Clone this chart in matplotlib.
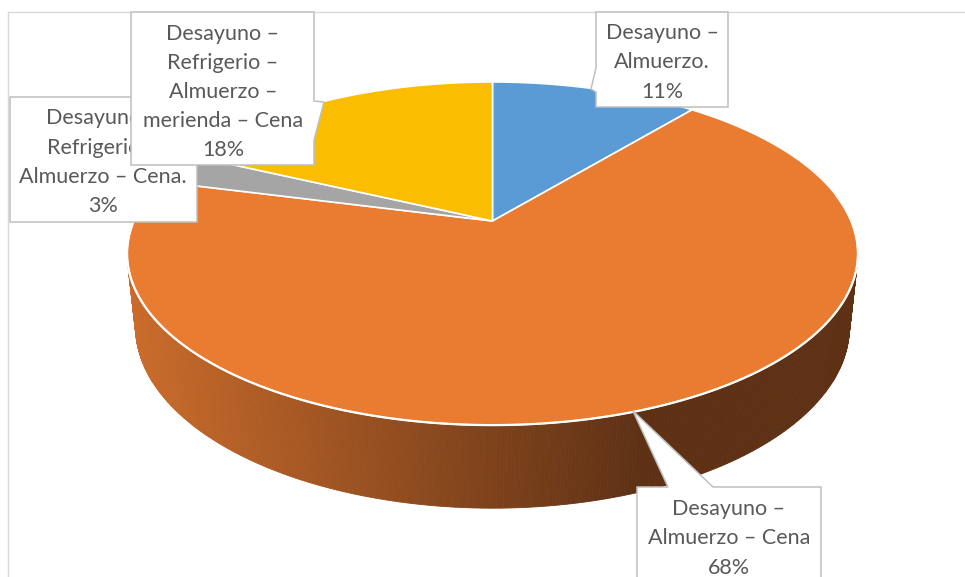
import numpy as np
import matplotlib
matplotlib.use("Agg")
import matplotlib.pyplot as plt
from matplotlib.patches import Polygon
from matplotlib.colors import to_rgb

# ---------------- data ----------------
categories = [
    "Desayuno – Almuerzo.",
    "Desayuno – Almuerzo – Cena",
    "Desayuno – Refrigerio – Almuerzo – Cena.",
    "Desayuno – Refrigerio – Almuerzo – merienda – Cena",
]
values = [11, 68, 3, 18]
label_lines = [
    ["Desayuno –", "Almuerzo."],
    ["Desayuno –", "Almuerzo – Cena"],
    ["Desayuno –", "Refrigerio –", "Almuerzo – Cena."],
    ["Desayuno –", "Refrigerio –", "Almuerzo –", "merienda – Cena"],
]
colors = ["#5B9BD5", "#EA7C31", "#A5A5A5", "#FABD00"]

# ---------------- 3D projection ----------------
W, H = 965, 577
cx, cy = 492.5, 221.0
elev = np.radians(27.45)
D, F, THICK = 4.677, 1678.0, 0.232
ce, se = np.cos(elev), np.sin(elev)


def proj(X, Y, Z):
    X, Y, Z = np.asarray(X, float), np.asarray(Y, float), np.asarray(Z, float)
    depth = D + Y * ce - Z * se
    up = Y * se + Z * ce
    return cx + F * X / depth, cy - F * up / depth


fig = plt.figure(figsize=(W / 100, H / 100), dpi=100)
ax = fig.add_axes([0, 0, 1, 1])
ax.set_xlim(0, W)
ax.set_ylim(H, 0)
ax.axis("off")

# chart area border
ax.plot([8, W], [12, 12], color="#D9D9D9", lw=1.0, zorder=1)
ax.plot([8, 8], [12, H], color="#D9D9D9", lw=1.0, zorder=1)

total = float(sum(values))
fracs = np.array(values) / total
cum = np.concatenate([[0], np.cumsum(fracs)])
# angle t (radians) in the disk plane, start at back (90deg), clockwise from above
t_start = np.pi / 2 - 2 * np.pi * cum[:-1]
t_end = np.pi / 2 - 2 * np.pi * cum[1:]

# ---------------- side wall ----------------
c_light = np.array(to_rgb("#CB6C2B"))
c_dark = np.array(to_rgb("#5E3115"))


def side_color(x):
    a = np.clip((x - 130) / (640 - 130), 0, 1)
    return c_light * (1 - a) + c_dark * a

n = 720
ts = np.linspace(0, 2 * np.pi, n + 1)
segs = []
for i in range(n):
    t1, t2 = ts[i], ts[i + 1]
    tm = 0.5 * (t1 + t2)
    segs.append((np.sin(tm), t1, t2))
segs.sort(key=lambda s: -s[0])  # back first
for s, t1, t2 in segs:
    if s > 0.35:
        continue
    xs_top, ys_top = proj(np.cos([t1, t2]), np.sin([t1, t2]), [0, 0])
    xs_bot, ys_bot = proj(np.cos([t2, t1]), np.sin([t2, t1]), [-THICK, -THICK])
    px = np.concatenate([xs_top, xs_bot])
    py = np.concatenate([ys_top, ys_bot])
    col = side_color(px.mean())
    ax.add_patch(Polygon(np.column_stack([px, py]), closed=True,
                         facecolor=col, edgecolor=col, lw=0.6, zorder=2))

# ---------------- top face ----------------
for i in range(len(values)):
    tt = np.linspace(t_start[i], t_end[i], 200)
    ex, ey = proj(np.cos(tt), np.sin(tt), np.zeros_like(tt))
    ox, oy = proj(0, 0, 0)
    pts = np.column_stack([np.concatenate([[ox], ex]), np.concatenate([[oy], ey])])
    ax.add_patch(Polygon(pts, closed=True, facecolor=colors[i],
                         edgecolor="white", lw=1.2, joinstyle="round", zorder=3))

# white rim on front edge
tt = np.linspace(np.pi * 0.95, np.pi * 2.05, 400)
ex, ey = proj(np.cos(tt), np.sin(tt), np.zeros_like(tt))
ax.plot(ex, ey, color="white", lw=1.6, zorder=4)

# ---------------- callout labels ----------------
edge = "#BFBFBF"
txt_col = "#595959"
font = dict(family=["Lato", "DejaVu Sans"], size=15.5, color=txt_col)

# order of drawing: 3% first, then 18% overlapping it
callouts = {
    # idx: (polygon outline, text center x, first baseline y, line step)
    0: ([(596, 12), (728, 12), (728, 107), (596, 107), (596, 92), (591, 89),
         (596, 68)], 662, 39, 29.5),
    1: ([(637, 487), (668, 487), (633, 411), (713, 487), (821, 487),
         (821, 600), (637, 600)], 729, 515, 29.5),
    2: ([(10, 97), (197, 97), (197, 222), (10, 222)], 103, 124, 29.5),
    3: ([(131, 12), (314, 12), (314, 101), (324, 102), (314, 140),
         (314, 165), (131, 165)], 223, 40, 29.0),
}
z = 6
for idx in [0, 1, 2, 3]:
    poly, tx, ty, step = callouts[idx]
    ax.add_patch(Polygon(poly, closed=True, facecolor="white", edgecolor=edge,
                         lw=1.1, zorder=z))
    lines = label_lines[idx] + [f"{values[idx]}%"]
    for k, ln in enumerate(lines):
        ax.text(tx, ty + k * step, ln, ha="center", va="baseline",
                zorder=z + 0.5, **font)
    z += 1

fig.savefig("out.png", dpi=100)
